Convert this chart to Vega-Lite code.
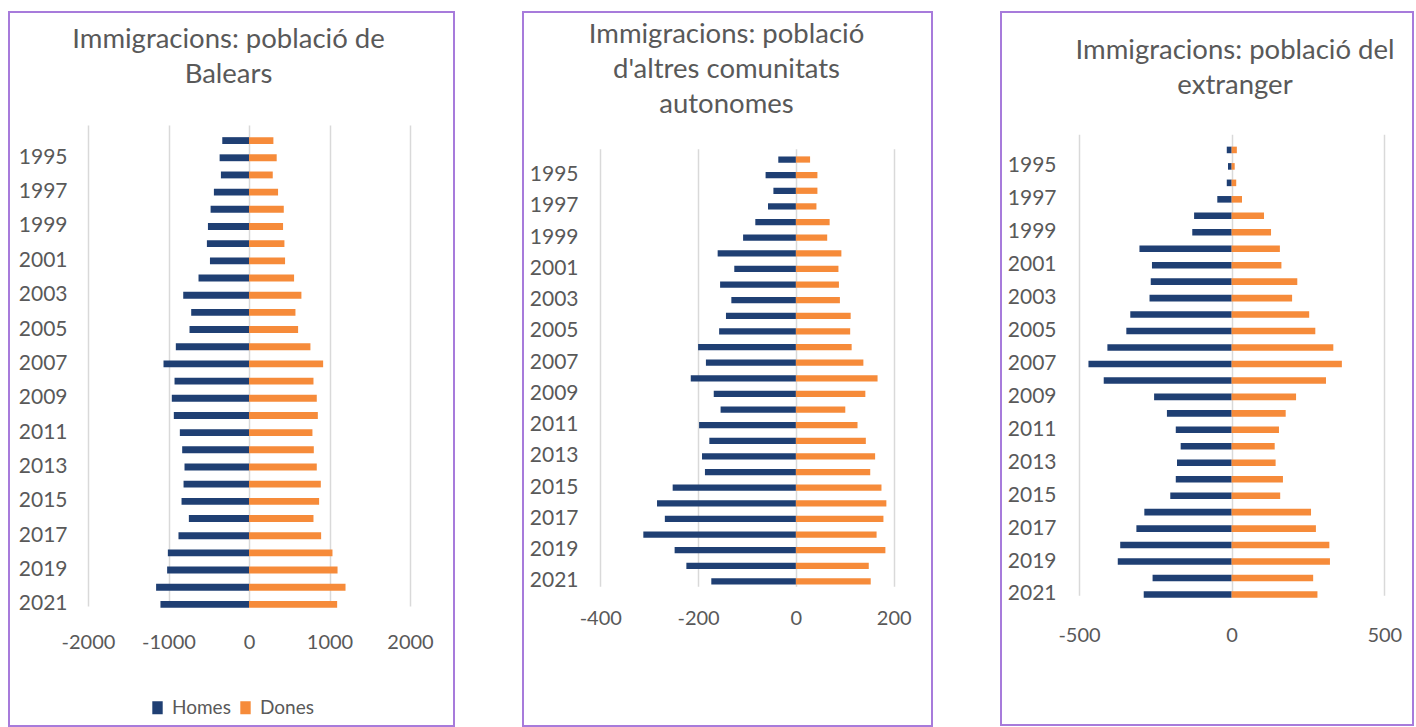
{
  "$schema": "https://vega.github.io/schema/vega-lite/v6.json",
  "padding": {"left": 8, "top": 11, "right": 0, "bottom": 0},
  "background": "white",
  "spacing": 69,
  "bounds": "flush",
  "config": {
    "font": "Lato",
    "view": {"stroke": "#A77BDB", "strokeWidth": 2},
    "axis": {"labelFont": "Lato", "labelFontSize": 20, "labelColor": "#595959", "ticks": false, "tickSize": 0, "domain": false, "title": null, "labelPadding": 0, "labelOverlap": false, "labelFlush": false},
    "axisY": {"labelFontSize": 21},
    "title": {"font": "Lato", "fontSize": 27.5, "fontWeight": "normal", "color": "#595959", "lineHeight": 35, "anchor": "middle"},
    "legend": {"orient": "none", "direction": "horizontal", "title": null, "labelFont": "Lato", "labelFontSize": 19, "labelColor": "#595959", "symbolType": "M-0.8,-1H0.8V1H-0.8Z", "symbolSize": 169, "symbolStrokeWidth": 0, "labelOffset": 5, "columnPadding": 5}
  },
  "datasets": {
    "balears": [
      {"year": 1994, "sex": "Homes", "value": -332}, {"year": 1994, "sex": "Dones", "value": 303},
      {"year": 1995, "sex": "Homes", "value": -365}, {"year": 1995, "sex": "Dones", "value": 344},
      {"year": 1996, "sex": "Homes", "value": -349}, {"year": 1996, "sex": "Dones", "value": 295},
      {"year": 1997, "sex": "Homes", "value": -436}, {"year": 1997, "sex": "Dones", "value": 361},
      {"year": 1998, "sex": "Homes", "value": -477}, {"year": 1998, "sex": "Dones", "value": 432},
      {"year": 1999, "sex": "Homes", "value": -510}, {"year": 1999, "sex": "Dones", "value": 423},
      {"year": 2000, "sex": "Homes", "value": -523}, {"year": 2000, "sex": "Dones", "value": 440},
      {"year": 2001, "sex": "Homes", "value": -485}, {"year": 2001, "sex": "Dones", "value": 448},
      {"year": 2002, "sex": "Homes", "value": -627}, {"year": 2002, "sex": "Dones", "value": 560},
      {"year": 2003, "sex": "Homes", "value": -817}, {"year": 2003, "sex": "Dones", "value": 651},
      {"year": 2004, "sex": "Homes", "value": -718}, {"year": 2004, "sex": "Dones", "value": 577},
      {"year": 2005, "sex": "Homes", "value": -739}, {"year": 2005, "sex": "Dones", "value": 610},
      {"year": 2006, "sex": "Homes", "value": -909}, {"year": 2006, "sex": "Dones", "value": 763},
      {"year": 2007, "sex": "Homes", "value": -1062}, {"year": 2007, "sex": "Dones", "value": 921},
      {"year": 2008, "sex": "Homes", "value": -925}, {"year": 2008, "sex": "Dones", "value": 801},
      {"year": 2009, "sex": "Homes", "value": -959}, {"year": 2009, "sex": "Dones", "value": 842},
      {"year": 2010, "sex": "Homes", "value": -934}, {"year": 2010, "sex": "Dones", "value": 855},
      {"year": 2011, "sex": "Homes", "value": -859}, {"year": 2011, "sex": "Dones", "value": 788},
      {"year": 2012, "sex": "Homes", "value": -830}, {"year": 2012, "sex": "Dones", "value": 805},
      {"year": 2013, "sex": "Homes", "value": -801}, {"year": 2013, "sex": "Dones", "value": 842},
      {"year": 2014, "sex": "Homes", "value": -813}, {"year": 2014, "sex": "Dones", "value": 892},
      {"year": 2015, "sex": "Homes", "value": -838}, {"year": 2015, "sex": "Dones", "value": 871},
      {"year": 2016, "sex": "Homes", "value": -747}, {"year": 2016, "sex": "Dones", "value": 801},
      {"year": 2017, "sex": "Homes", "value": -876}, {"year": 2017, "sex": "Dones", "value": 896},
      {"year": 2018, "sex": "Homes", "value": -1008}, {"year": 2018, "sex": "Dones", "value": 1037},
      {"year": 2019, "sex": "Homes", "value": -1017}, {"year": 2019, "sex": "Dones", "value": 1100},
      {"year": 2020, "sex": "Homes", "value": -1154}, {"year": 2020, "sex": "Dones", "value": 1199},
      {"year": 2021, "sex": "Homes", "value": -1100}, {"year": 2021, "sex": "Dones", "value": 1095}
    ],
    "altres": [
      {"year": 1994, "sex": "Homes", "value": -36}, {"year": 1994, "sex": "Dones", "value": 29},
      {"year": 1995, "sex": "Homes", "value": -62}, {"year": 1995, "sex": "Dones", "value": 44},
      {"year": 1996, "sex": "Homes", "value": -46}, {"year": 1996, "sex": "Dones", "value": 44},
      {"year": 1997, "sex": "Homes", "value": -57}, {"year": 1997, "sex": "Dones", "value": 42},
      {"year": 1998, "sex": "Homes", "value": -83}, {"year": 1998, "sex": "Dones", "value": 69},
      {"year": 1999, "sex": "Homes", "value": -108}, {"year": 1999, "sex": "Dones", "value": 64},
      {"year": 2000, "sex": "Homes", "value": -160}, {"year": 2000, "sex": "Dones", "value": 93},
      {"year": 2001, "sex": "Homes", "value": -126}, {"year": 2001, "sex": "Dones", "value": 87},
      {"year": 2002, "sex": "Homes", "value": -155}, {"year": 2002, "sex": "Dones", "value": 88},
      {"year": 2003, "sex": "Homes", "value": -132}, {"year": 2003, "sex": "Dones", "value": 90},
      {"year": 2004, "sex": "Homes", "value": -143}, {"year": 2004, "sex": "Dones", "value": 112},
      {"year": 2005, "sex": "Homes", "value": -157}, {"year": 2005, "sex": "Dones", "value": 111},
      {"year": 2006, "sex": "Homes", "value": -200}, {"year": 2006, "sex": "Dones", "value": 114},
      {"year": 2007, "sex": "Homes", "value": -184}, {"year": 2007, "sex": "Dones", "value": 138},
      {"year": 2008, "sex": "Homes", "value": -215}, {"year": 2008, "sex": "Dones", "value": 167},
      {"year": 2009, "sex": "Homes", "value": -168}, {"year": 2009, "sex": "Dones", "value": 142},
      {"year": 2010, "sex": "Homes", "value": -154}, {"year": 2010, "sex": "Dones", "value": 101},
      {"year": 2011, "sex": "Homes", "value": -198}, {"year": 2011, "sex": "Dones", "value": 126},
      {"year": 2012, "sex": "Homes", "value": -177}, {"year": 2012, "sex": "Dones", "value": 143},
      {"year": 2013, "sex": "Homes", "value": -192}, {"year": 2013, "sex": "Dones", "value": 162},
      {"year": 2014, "sex": "Homes", "value": -186}, {"year": 2014, "sex": "Dones", "value": 152},
      {"year": 2015, "sex": "Homes", "value": -252}, {"year": 2015, "sex": "Dones", "value": 175},
      {"year": 2016, "sex": "Homes", "value": -284}, {"year": 2016, "sex": "Dones", "value": 185},
      {"year": 2017, "sex": "Homes", "value": -268}, {"year": 2017, "sex": "Dones", "value": 179},
      {"year": 2018, "sex": "Homes", "value": -312}, {"year": 2018, "sex": "Dones", "value": 165},
      {"year": 2019, "sex": "Homes", "value": -248}, {"year": 2019, "sex": "Dones", "value": 183},
      {"year": 2020, "sex": "Homes", "value": -224}, {"year": 2020, "sex": "Dones", "value": 149},
      {"year": 2021, "sex": "Homes", "value": -173}, {"year": 2021, "sex": "Dones", "value": 153}
    ],
    "extranger": [
      {"year": 1994, "sex": "Homes", "value": -16}, {"year": 1994, "sex": "Dones", "value": 17},
      {"year": 1995, "sex": "Homes", "value": -12}, {"year": 1995, "sex": "Dones", "value": 10},
      {"year": 1996, "sex": "Homes", "value": -16}, {"year": 1996, "sex": "Dones", "value": 15},
      {"year": 1997, "sex": "Homes", "value": -47}, {"year": 1997, "sex": "Dones", "value": 34},
      {"year": 1998, "sex": "Homes", "value": -123}, {"year": 1998, "sex": "Dones", "value": 106},
      {"year": 1999, "sex": "Homes", "value": -129}, {"year": 1999, "sex": "Dones", "value": 129},
      {"year": 2000, "sex": "Homes", "value": -302}, {"year": 2000, "sex": "Dones", "value": 158},
      {"year": 2001, "sex": "Homes", "value": -261}, {"year": 2001, "sex": "Dones", "value": 163},
      {"year": 2002, "sex": "Homes", "value": -265}, {"year": 2002, "sex": "Dones", "value": 215},
      {"year": 2003, "sex": "Homes", "value": -269}, {"year": 2003, "sex": "Dones", "value": 198},
      {"year": 2004, "sex": "Homes", "value": -332}, {"year": 2004, "sex": "Dones", "value": 254},
      {"year": 2005, "sex": "Homes", "value": -345}, {"year": 2005, "sex": "Dones", "value": 274},
      {"year": 2006, "sex": "Homes", "value": -407}, {"year": 2006, "sex": "Dones", "value": 333},
      {"year": 2007, "sex": "Homes", "value": -469}, {"year": 2007, "sex": "Dones", "value": 361},
      {"year": 2008, "sex": "Homes", "value": -419}, {"year": 2008, "sex": "Dones", "value": 309},
      {"year": 2009, "sex": "Homes", "value": -254}, {"year": 2009, "sex": "Dones", "value": 211},
      {"year": 2010, "sex": "Homes", "value": -212}, {"year": 2010, "sex": "Dones", "value": 177},
      {"year": 2011, "sex": "Homes", "value": -183}, {"year": 2011, "sex": "Dones", "value": 155},
      {"year": 2012, "sex": "Homes", "value": -167}, {"year": 2012, "sex": "Dones", "value": 141},
      {"year": 2013, "sex": "Homes", "value": -179}, {"year": 2013, "sex": "Dones", "value": 144},
      {"year": 2014, "sex": "Homes", "value": -183}, {"year": 2014, "sex": "Dones", "value": 168},
      {"year": 2015, "sex": "Homes", "value": -201}, {"year": 2015, "sex": "Dones", "value": 159},
      {"year": 2016, "sex": "Homes", "value": -286}, {"year": 2016, "sex": "Dones", "value": 260},
      {"year": 2017, "sex": "Homes", "value": -312}, {"year": 2017, "sex": "Dones", "value": 276},
      {"year": 2018, "sex": "Homes", "value": -365}, {"year": 2018, "sex": "Dones", "value": 320},
      {"year": 2019, "sex": "Homes", "value": -373}, {"year": 2019, "sex": "Dones", "value": 322},
      {"year": 2020, "sex": "Homes", "value": -259}, {"year": 2020, "sex": "Dones", "value": 267},
      {"year": 2021, "sex": "Homes", "value": -288}, {"year": 2021, "sex": "Dones", "value": 281}
    ]
  },
  "hconcat": [
    {
      "width": 445,
      "height": 714,
      "data": {"name": "balears"},
      "title": {"text": ["Immigracions: població de", "Balears"], "offset": -76, "dx": -3},
      "mark": {"type": "bar"},
      "encoding": {
        "y": {"field": "year", "type": "ordinal", "sort": "ascending",
              "scale": {"range": [120, 601], "paddingInner": 0.6, "paddingOuter": 0.3},
              "axis": {"values": [1995, 1997, 1999, 2001, 2003, 2005, 2007, 2009, 2011, 2013, 2015, 2017, 2019, 2021], "offset": -58, "grid": false}},
        "x": {"field": "value", "type": "quantitative", "stack": null,
              "scale": {"domain": [-2000, 2000], "nice": false, "zero": false, "range": [79, 401]},
              "axis": {"values": [-2000, -1000, 0, 1000, 2000], "grid": true, "gridColor": "#D9D9D9", "gridWidth": 1.5, "offset": -94, "labelExpr": "'' + datum.value"}},
        "color": {"field": "sex", "type": "nominal",
                  "scale": {"domain": ["Homes", "Dones"], "range": ["#1F3F73", "#F68B3A"]},
                  "legend": {"legendX": 139, "legendY": 686}}
      }
    },
    {
      "width": 409,
      "height": 714,
      "data": {"name": "altres"},
      "title": {"text": ["Immigracions: població", "d'altres comunitats", "autonomes"], "offset": -106, "dx": -1},
      "mark": {"type": "bar"},
      "encoding": {
        "y": {"field": "year", "type": "ordinal", "sort": "ascending",
              "scale": {"range": [139.7, 577.3], "paddingInner": 0.6, "paddingOuter": 0.3},
              "axis": {"values": [1995, 1997, 1999, 2001, 2003, 2005, 2007, 2009, 2011, 2013, 2015, 2017, 2019, 2021], "offset": -55, "grid": false}},
        "x": {"field": "value", "type": "quantitative", "stack": null,
              "scale": {"domain": [-400, 200], "nice": false, "zero": false, "range": [77.3, 370.7]},
              "axis": {"values": [-400, -200, 0, 200], "grid": true, "gridColor": "#D9D9D9", "gridWidth": 1.5, "offset": -118, "labelExpr": "'' + datum.value"}},
        "color": {"field": "sex", "type": "nominal",
                  "scale": {"domain": ["Homes", "Dones"], "range": ["#1F3F73", "#F68B3A"]},
                  "legend": {"legendX": 108, "legendY": 686}}
      }
    },
    {
      "width": 412,
      "height": 713,
      "data": {"name": "extranger"},
      "title": {"text": ["Immigracions: població del", "extranger"], "offset": -87, "dx": 28},
      "mark": {"type": "bar"},
      "encoding": {
        "y": {"field": "year", "type": "ordinal", "sort": "ascending",
              "scale": {"range": [129.7, 590.7], "paddingInner": 0.6, "paddingOuter": 0.3},
              "axis": {"values": [1995, 1997, 1999, 2001, 2003, 2005, 2007, 2009, 2011, 2013, 2015, 2017, 2019, 2021], "offset": -55, "grid": false}},
        "x": {"field": "value", "type": "quantitative", "stack": null,
              "scale": {"domain": [-500, 500], "nice": false, "zero": false, "range": [78, 383.3]},
              "axis": {"values": [-500, 0, 500], "grid": true, "gridColor": "#D9D9D9", "gridWidth": 1.5, "offset": -100, "labelExpr": "'' + datum.value"}},
        "color": {"field": "sex", "type": "nominal",
                  "scale": {"domain": ["Homes", "Dones"], "range": ["#1F3F73", "#F68B3A"]},
                  "legend": {"legendX": 143, "legendY": 686}}
      }
    }
  ]
}
